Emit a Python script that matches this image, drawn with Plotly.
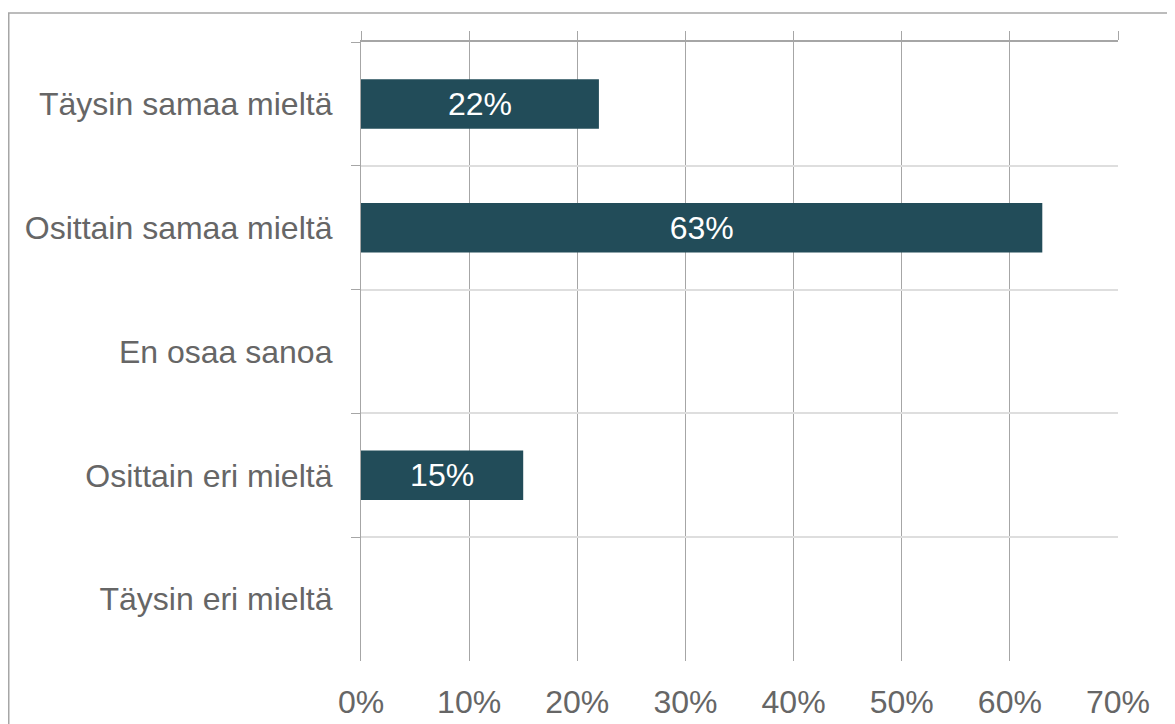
import plotly.graph_objects as go

categories = ["Täysin samaa mieltä", "Osittain samaa mieltä", "En osaa sanoa",
              "Osittain eri mieltä", "Täysin eri mieltä"]
values = [22, 63, 0, 15, 0]
tick_values = [0, 10, 20, 30, 40, 50, 60, 70]
tick_labels = ["0%", "10%", "20%", "30%", "40%", "50%", "60%", "70%"]

bar_color = "#224C59"
text_color = "#666666"
grid_dark = "#a6a6a6"
grid_light = "#dedede"
font_family = "Liberation Sans, Arial, sans-serif"
fsize = 32

bar_text = [f"{v}%" if v > 0 else "" for v in values]

fig = go.Figure()
fig.add_trace(go.Bar(
    x=values, y=categories, orientation="h",
    marker=dict(color=bar_color, line=dict(width=0)),
    width=0.4,
    text=bar_text, textposition="inside", insidetextanchor="middle",
    textfont=dict(color="white", size=fsize, family=font_family),
    constraintext="none",
    hoverinfo="skip", showlegend=False,
))
# invisible trace to anchor the top axis
fig.add_trace(go.Scatter(
    x=[0], y=[categories[0]], xaxis="x2", mode="markers",
    marker=dict(opacity=0), hoverinfo="skip", showlegend=False,
))

# page body has an 8px margin, so figure starts at (8, 8)
W, H = 1167, 716
ml, mr, mt, mb = 353, 57, 34, 63
pw, ph = W - ml - mr, H - mt - mb

def px_x(p):
    return (p - ml) / pw

def px_y(p):
    return (H - mb - p) / ph

fig.update_layout(
    width=W, height=H,
    margin=dict(l=ml, r=mr, t=mt, b=mb, pad=0),
    paper_bgcolor="white", plot_bgcolor="white",
    font=dict(family=font_family, color=text_color, size=fsize),
    bargap=0.6,
    xaxis=dict(
        range=[0, 70], tickvals=tick_values, ticktext=tick_labels,
        showgrid=True, gridcolor=grid_dark, gridwidth=1.3,
        zeroline=False, showline=False, ticks="",
        tickfont=dict(size=fsize, color=text_color),
        ticklabelstandoff=19, automargin=False,
    ),
    xaxis2=dict(
        range=[0, 70], tickvals=tick_values, overlaying="x", side="top",
        anchor="y", showticklabels=False, showgrid=False, zeroline=False,
        showline=True, linecolor=grid_dark, linewidth=1.5,
        ticks="outside", ticklen=9, tickcolor=grid_dark, tickwidth=1.3,
        automargin=False,
    ),
    yaxis=dict(
        categoryorder="array", categoryarray=categories,
        autorange="reversed", tickson="boundaries",
        showgrid=True, gridcolor=grid_light, gridwidth=2,
        showline=True, linecolor=grid_dark, linewidth=1.3,
        ticks="outside", ticklen=9, tickcolor=grid_dark, tickwidth=1.3,
        tickfont=dict(size=fsize, color=text_color),
        ticklabelstandoff=21, zeroline=False, automargin=False,
    ),
    shapes=[dict(
        type="rect", xref="paper", yref="paper",
        x0=px_x(0.75), x1=px_x(1180), y0=px_y(735), y1=px_y(5),
        line=dict(color=grid_dark, width=1.5), fillcolor="rgba(0,0,0,0)",
        layer="below",
    )],
)

fig.write_html("out.html")
